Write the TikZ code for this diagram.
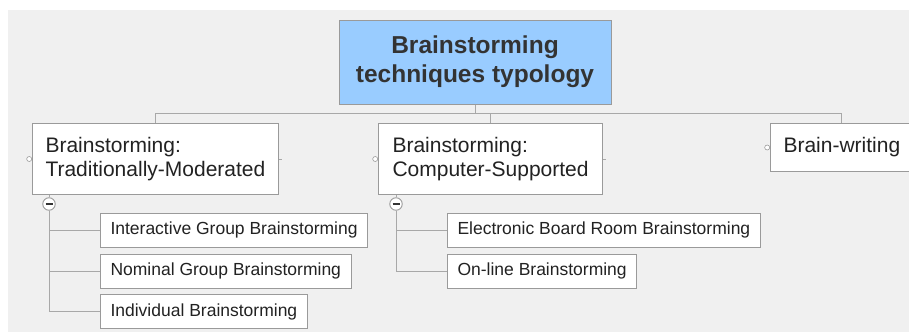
\documentclass[tikz,border=0pt]{standalone}
\usepackage{fontspec}
\setmainfont{Liberation Sans}
\usepackage{xcolor}
\usetikzlibrary{positioning, calc}

\definecolor{bgGray}{HTML}{F0F0F0}
\definecolor{boxLine}{HTML}{9A9A9A}
\definecolor{linkLine}{HTML}{A8A8A8}
\definecolor{rootBlue}{HTML}{99CCFF}
\definecolor{inkDark}{HTML}{222222}
\definecolor{rootInk}{HTML}{333333}

\begin{document}
\begin{tikzpicture}[x=1pt, y=-1pt,
    rootbox/.style={draw=boxLine, line width=1pt, fill=rootBlue, text=rootInk,
        font=\fontsize{24.5}{29}\selectfont\bfseries, align=center,
        minimum width=272pt, minimum height=84pt},
    mainbox/.style={draw=boxLine, line width=1pt, fill=white, text=inkDark,
        font=\fontsize{21}{24}\selectfont, align=left, inner xsep=13pt,
        minimum height=71pt, anchor=north west},
    leafbox/.style={draw=boxLine, line width=1pt, fill=white, text=inkDark,
        font=\fontsize{17.5}{20}\selectfont, inner xsep=10pt,
        minimum height=34pt, anchor=west},
    link/.style={draw=linkLine, line width=1pt},
    port/.style={circle, draw=boxLine, fill=white, inner sep=0pt,
        minimum size=5pt, line width=0.6pt},
    toggle/.style={circle, draw=boxLine, fill=white, inner sep=0pt,
        minimum size=12.5pt, line width=0.9pt,
        path picture={\draw[rootInk, line width=1.1pt]
            ([xshift=-3.5pt]path picture bounding box.center) --
            ([xshift=3.5pt]path picture bounding box.center);}}
]
    % Canvas
    \useasboundingbox (0,0) rectangle (909,332);
    \fill[white] (0,0) rectangle (909,332);
    \fill[bgGray] (8,10) rectangle (909,332);

    % Root
    \node[rootbox] (root) at (475,62) {Brainstorming\\techniques typology};

    % Main branches
    \node[mainbox] (trad) at (32,123) {Brainstorming:\\Traditionally-Moderated};
    \node[mainbox, inner xsep=14pt] (comp) at (378,123) {Brainstorming:\\Computer-Supported};
    \node[mainbox, minimum height=48pt] (bw) at (770,123) {Brain-writing};

    \draw[link] (root.south) -- ++(0,9) -| (trad.north);
    \draw[link] (root.south) -- ++(0,9) -| (comp.north);
    \draw[link] (root.south) -- ++(0,9) -| (bw.north);

    % Ports
    \node[port, left=0pt of trad] (tradport) {};
    \node[port, left=0pt of comp] (compport) {};
    \node[port, left=0pt of bw] (bwport) {};
    \draw[link] (trad.east) -- ++(3,0);
    \draw[link] (comp.east) -- ++(3,0);

    % Traditionally-moderated leaves
    \node[toggle] (tradtog) at (49,204) {};
    \node[leafbox] (interactive) at (100,230) {Interactive Group Brainstorming};
    \node[leafbox] (nominal) at (100,271) {Nominal Group Brainstorming};
    \node[leafbox] (individual) at (100,311.5) {Individual Brainstorming};
    \draw[link] (tradtog) -- (tradtog |- trad.south);
    \draw[link] (tradtog) |- (interactive.west);
    \draw[link] (tradtog) |- (nominal.west);
    \draw[link] (tradtog) |- (individual.west);

    % Computer-supported leaves
    \node[toggle] (comptog) at (396,204) {};
    \node[leafbox] (electronic) at (447,230) {Electronic Board Room Brainstorming};
    \node[leafbox] (online) at (447,271) {On-line Brainstorming};
    \draw[link] (comptog) -- (comptog |- comp.south);
    \draw[link] (comptog) |- (electronic.west);
    \draw[link] (comptog) |- (online.west);
\end{tikzpicture}
\end{document}
